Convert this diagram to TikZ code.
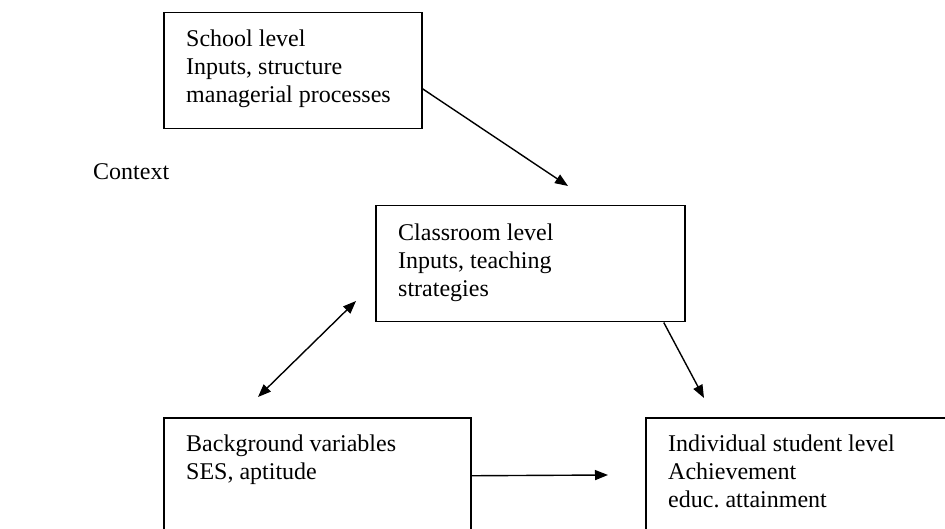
\documentclass[tikz,border=0pt]{standalone}
\usepackage{fontspec}
\setmainfont{Liberation Serif}
\usetikzlibrary{arrows.meta}
\frenchspacing
\begin{document}
\begin{tikzpicture}[x=1pt,y=-1pt,
  box/.style={draw, line width=1.5pt, rectangle, inner sep=0pt, anchor=north west},
  txt/.style={anchor=north west, inner sep=0pt, align=left,
              font=\fontsize{24}{28}\selectfont},
  arr/.style={line width=1.4pt, -{Triangle[length=13pt,width=10pt]}},
  dbl/.style={line width=1.4pt, {Triangle[length=13pt,width=10pt]}-{Triangle[length=13pt,width=10pt]}}]
\useasboundingbox (0,0) rectangle (945,529);

% level boxes
\node[box, minimum width=258pt, minimum height=116pt] (school) at (163,12) {};
\node[box, minimum width=309pt, minimum height=116pt] (cls) at (375,205) {};
\node[box, minimum width=307pt, minimum height=116pt] (bg) at (163,417) {};
\node[box, minimum width=360pt, minimum height=116pt] (ind) at (645,417) {};

% box texts
\node[txt] (schooltxt) at (186,30) {School level\\Inputs, structure\\managerial processes};
\node[txt] (clstxt) at (398,224) {Classroom level\\Inputs, teaching\\strategies};
\node[txt] (bgtxt) at (186,435) {Background variables\\SES, aptitude};
\node[txt] (indtxt) at (668,435) {Individual student level\\Achievement\\educ.\ attainment};
\node[anchor=west, inner sep=0pt, font=\fontsize{24}{28}\selectfont] (context) at (93,172) {Context};

% free arrow ends
\coordinate (e1) at (568,186);
\coordinate (d1) at (258,397);
\coordinate (d2) at (356,301);
\coordinate (e3) at (704,398);
\coordinate (e4) at (608,475);

% connectors
\draw[arr] ([yshift=-18pt]school.east) -- (e1);
\draw[dbl] (d1) -- (d2);
\draw[arr] ([xshift=133.5pt]cls.south) -- (e3);
\draw[arr] (bg.east) -- (e4);
\end{tikzpicture}
\end{document}
